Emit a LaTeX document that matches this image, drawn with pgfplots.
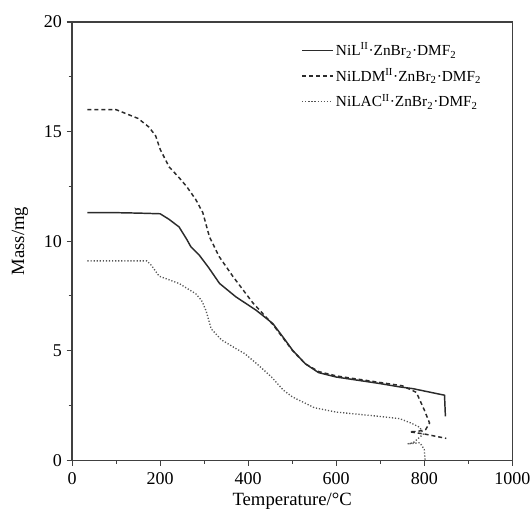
\documentclass[border=0pt]{standalone}
\usepackage{pgfplots}
\pgfplotsset{compat=1.18}
\usetikzlibrary{calc}
\usepackage{fontspec}
\setmainfont{Liberation Serif}
\definecolor{ln}{HTML}{2b2b2b}
\begin{document}
\begin{tikzpicture}
\begin{axis}[
  scale only axis,
  width=330pt, height=328.5pt,
  xmin=0, xmax=1000, ymin=0, ymax=20,
  xtick={0,200,...,1000}, ytick={0,5,...,20},
  minor xtick={100,300,...,900}, minor ytick={2.5,7.5,...,17.5},
  tick align=outside, xtick pos=bottom, ytick pos=left,
  major tick length=4pt, minor tick length=2.5pt,
  axis line style={line width=0.9pt, black!75},
  tick style={line width=0.8pt, black!75},
  /pgf/number format/assume math mode=true,
  /pgf/number format/1000 sep={},
  tick label style={font=\fontsize{13.5}{15}\selectfont},
  xticklabel style={yshift=-1.5pt},
  label style={font=\fontsize{14}{16}\selectfont},
  xlabel={Temperature/°C}, ylabel={Mass/mg},
  xlabel style={at={(axis description cs:0.5,-0.094)}, anchor=center},
  ylabel style={at={(axis description cs:-0.118,0.5)}, anchor=center},
  legend style={draw=none, at={(0.945,0.965)}, anchor=north east, font=\fontsize{11.5}{13}\selectfont, row sep=4pt, fill=none},
  legend cell align=left,
  legend image code/.code={\draw[#1] (0cm,0cm) -- (0.8cm,0cm);},
]
\addplot[ln, line width=1.1pt] coordinates {
(35,11.3) (100,11.3) (150,11.28) (200,11.25) (220,11.0) (243,10.65) (260,10.1) (270,9.74) (289,9.36) (310,8.8) (335,8.07) (372,7.46) (418,6.85) (456,6.24) (480,5.6) (501,5.02) (530,4.4) (560,4.0) (600,3.8) (650,3.65) (700,3.5) (744,3.35) (774,3.27) (846,2.97) (848,2.0)
};
\addlegendentry{NiL\textsuperscript{II}·ZnBr\textsubscript{2}·DMF\textsubscript{2}}
\addplot[ln, line width=1.1pt, dash pattern=on 3pt off 2.2pt] coordinates {
(35,16.0) (100,16.0) (150,15.6) (175,15.2) (190,14.8) (200,14.2) (220,13.4) (243,12.9) (260,12.5) (281,11.9) (297,11.3) (312,10.2) (334,9.3) (365,8.4) (410,7.2) (456,6.2) (501,5.0) (530,4.4) (560,4.05) (600,3.85) (650,3.7) (700,3.55) (750,3.4) (782,3.1) (800,2.3) (812,1.7) (803,1.4) (785,1.32) (767,1.3) (800,1.2) (850,1.0)
};
\addlegendentry{NiLDM\textsuperscript{II}·ZnBr\textsubscript{2}·DMF\textsubscript{2}}
\addplot[ln!80, line width=1.0pt, dash pattern=on 0.9pt off 1.4pt] coordinates {
(35,9.1) (100,9.1) (170,9.1) (180,8.9) (198,8.4) (243,8.07) (281,7.6) (294,7.3) (304,6.85) (316,6.0) (339,5.5) (372,5.1) (392,4.87) (420,4.4) (453,3.8) (480,3.2) (500,2.9) (550,2.4) (600,2.2) (650,2.1) (700,2.0) (744,1.9) (770,1.7) (790,1.5) (798,1.2) (775,0.8) (762,0.75) (790,0.8) (800,0.5) (802,0.0)
};
\addlegendentry{NiLAC\textsuperscript{II}·ZnBr\textsubscript{2}·DMF\textsubscript{2}}
\end{axis}
\pgfresetboundingbox
\path ($(current axis.south west)+(-54pt,-40.5pt)$) rectangle ($(current axis.north east)+(14pt,16.5pt)$);
\end{tikzpicture}
\end{document}
